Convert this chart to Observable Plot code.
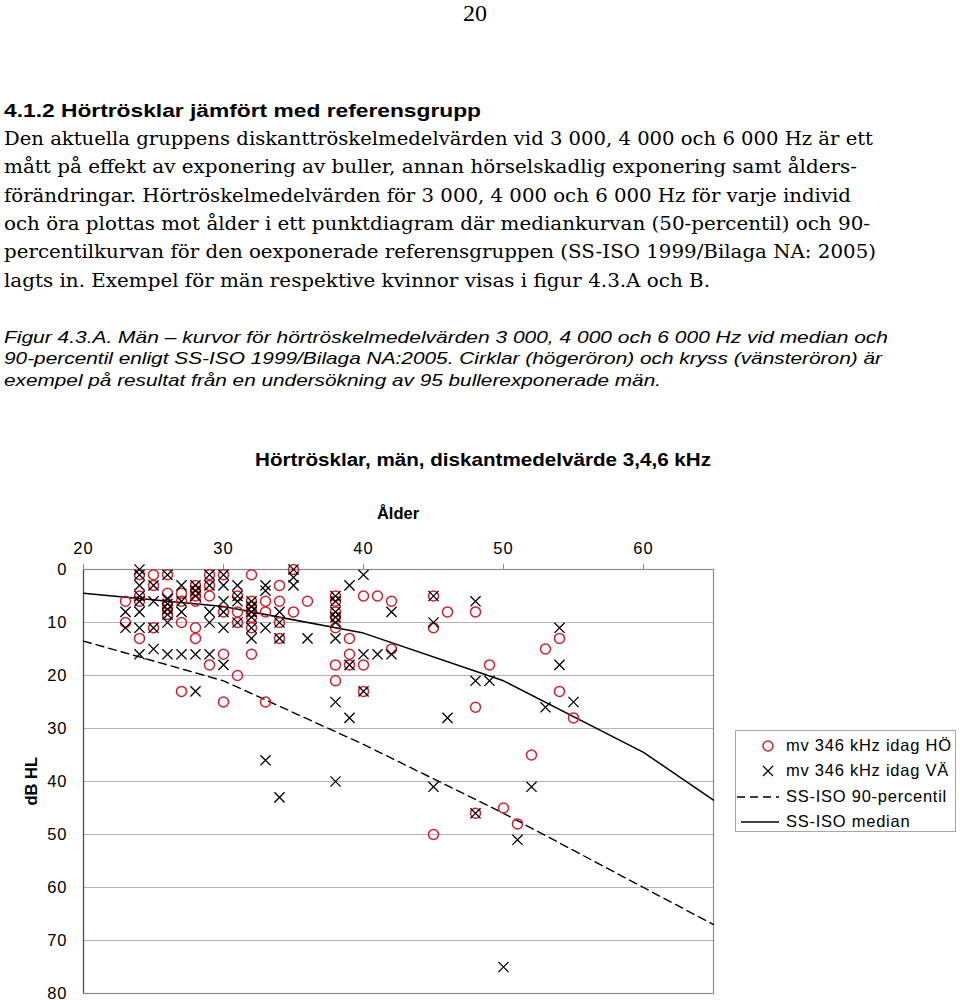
<!DOCTYPE html>
<html>
<head>
<meta charset="utf-8">
<script src="https://cdn.jsdelivr.net/npm/d3@7"></script>
<script src="https://cdn.jsdelivr.net/npm/@observablehq/plot@0.6"></script>
<style>
  html, body { margin: 0; padding: 0; background: #fff; }
  body { width: 960px; height: 1000px; position: relative; overflow: hidden; color: #000; }
  .ln { position: absolute; white-space: nowrap; line-height: 1; transform-origin: 0 0; }
  .serif { font-family: "DejaVu Serif", "Liberation Serif", serif; }
  .sans { font-family: "Liberation Sans", Arial, sans-serif; }
  #chart { position: absolute; left: 0; top: 530px; }
  #chart svg text { font-family: "Liberation Sans", Arial, sans-serif !important; font-size: 16.5px !important; font-weight: normal !important; letter-spacing: 1px; fill: #000; }
  #legend { position: absolute; left: 735px; top: 730px; width: 221px; height: 102px; border: 1px solid #a8a8a8; box-sizing: border-box; background: #fff; }
  #legend .row { position: absolute; left: 0; height: 20px; }
  #legend svg { position: absolute; left: 0; top: 0; }
  #legend span { position: absolute; left: 50px; top: 1px; font-family: "Liberation Sans", Arial, sans-serif; font-size: 16.5px; letter-spacing: 0.75px; white-space: nowrap; line-height: 1; }
</style>
</head>
<body>
<div id="page"></div>
<div id="chart"></div>
<div id="legend"></div>
<script>
// ---------------- data ----------------
const xTicks = [20, 30, 40, 50, 60];
const yTicks = [0, 10, 20, 30, 40, 50, 60, 70, 80];

// SS-ISO reference curves (age, dB HL)
const refAges = [20, 30, 40, 50, 60, 65];
const refMedian = [4.5, 7, 12, 21, 34.5, 43.5];
const ref90 = [13.5, 21, 33, 46, 60, 67];

// Right ear (HÖ, circles): [age, dB HL]
const rightEar = [
  [23,6],[23,10],
  [24,1],[24,5],[24,6],[24,13],
  [25,1],[25,3],[25,11],
  [26,1],[26,4.5],[26,6.5],[26,7.5],[26,8.5],
  [27,4.5],[27,6],[27,10],[27,23],
  [28,3],[28,4],[28,5],[28,6],[28,11],[28,13],
  [29,1],[29,3],[29,5],[29,18],
  [30,1],[30,8],[30,16],[30,25],
  [31,5],[31,8],[31,10],[31,20],
  [32,1],[32,6],[32,7],[32,8],[32,9],[32,11],[32,16],
  [33,6],[33,8],[33,25],
  [34,3],[34,6],[34,10],[34,13],
  [35,0],[35,8],
  [36,6],
  [38,5],[38,6],[38,8],[38,9],[38,11],[38,18],[38,21],
  [39,13],[39,16],[39,18],
  [40,5],[40,18],[40,23],
  [41,5],
  [42,6],[42,15],
  [45,5],[45,11],[45,50],
  [46,8],
  [48,8],[48,26],[48,46],
  [49,18],
  [50,45],[51,48],[52,35],[53,15],[54,13],[54,23],[55,28]
];

// Left ear (VÄ, crosses): [age, dB HL]
const leftEar = [
  [23,8],[23,11],
  [24,0],[24,1],[24,3],[24,5],[24,6],[24,8],[24,11],[24,16],
  [25,3],[25,6],[25,11],[25,15],
  [26,1],[26,5.5],[26,6.5],[26,7.5],[26,8.5],[26,10],[26,16],
  [27,3],[27,6],[27,8],[27,16],
  [28,3],[28,4],[28,5],[28,16],[28,23],
  [29,1],[29,3],[29,8],[29,10],[29,16],
  [30,1],[30,3],[30,6],[30,8],[30,11],[30,18],
  [31,3],[31,5],[31,6],[31,10],
  [32,6],[32,7],[32,8],[32,9],[32,11],[32,13],
  [33,3],[33,4],[33,11],[33,36],
  [34,8],[34,10],[34,13],[34,43],
  [35,0],[35,1.5],[35,3],
  [36,13],
  [38,5],[38,6],[38,8],[38,9],[38,10],[38,13],[38,25],[38,40],
  [39,3],[39,18],[39,28],
  [40,1],[40,16],[40,23],
  [41,16],
  [42,8],[42,16],
  [45,5],[45,10],[45,41],
  [46,28],
  [48,6],[48,21],[48,46],
  [49,21],
  [50,75],[51,51],[52,41],[53,26],[54,11],[54,18],[55,25]
];

const legendLabels = ["mv 346 kHz idag HÖ", "mv 346 kHz idag VÄ", "SS-ISO 90-percentil", "SS-ISO median"];

const pageNumber = "20";
const heading = "4.1.2 Hörtrösklar jämfört med referensgrupp";
const bodyLines = [
  "Den aktuella gruppens diskanttröskelmedelvärden vid 3 000, 4 000 och 6 000 Hz är ett",
  "mått på effekt av exponering av buller, annan hörselskadlig exponering samt ålders-",
  "förändringar. Hörtröskelmedelvärden för 3 000, 4 000 och 6 000 Hz för varje individ",
  "och öra plottas mot ålder i ett punktdiagram där mediankurvan (50-percentil) och 90-",
  "percentilkurvan för den oexponerade referensgruppen (SS-ISO 1999/Bilaga NA: 2005)",
  "lagts in. Exempel för män respektive kvinnor visas i figur 4.3.A och B."
];
const captionLines = [
  "Figur 4.3.A.  Män – kurvor för hörtröskelmedelvärden 3 000, 4 000 och 6 000 Hz vid median och",
  "90-percentil enligt SS-ISO 1999/Bilaga NA:2005. Cirklar (högeröron) och kryss (vänsteröron) är",
  "exempel på resultat från en undersökning av 95 bullerexponerade män."
];
const chartTitle = "Hörtrösklar, män, diskantmedelvärde 3,4,6 kHz";
const xLabel = "Ålder";
const yLabel = "dB HL";

// ---------------- text ----------------
const page = document.getElementById("page");
function addLine(text, cls, fs, left, baseline, targetW, extra) {
  const d = document.createElement("div");
  d.className = "ln " + cls;
  d.textContent = text;
  d.style.fontSize = fs + "px";
  d.style.left = left + "px";
  d.style.top = (baseline - 0.85 * fs) + "px";
  if (extra) Object.assign(d.style, extra);
  page.appendChild(d);
  if (targetW) {
    const w = d.getBoundingClientRect().width;
    d.style.transform = `scaleX(${targetW / w})`;
  }
  return d;
}
const pn = addLine(pageNumber, "serif", 24, 0, 21, null, {fontFamily: "'Liberation Serif', serif"});
pn.style.left = (475 - pn.getBoundingClientRect().width / 2) + "px";
addLine(heading, "sans", 19, 4, 117, 477, {fontWeight: "bold"});
const bodyRight = [873, 857, 851, 870, 876, 710];
bodyLines.forEach((t, i) => addLine(t, "serif", 19, 4, 145 + 28.4 * i, bodyRight[i] - 4));
const capRight = [888, 882, 661];
captionLines.forEach((t, i) => addLine(t, "sans", 17, 4, 343 + 21.5 * i, capRight[i] - 4, {fontStyle: "italic"}));
addLine(chartTitle, "sans", 18, 255, 466, 456, {fontWeight: "bold"});
const xl = addLine(xLabel, "sans", 16.5, 0, 519, null, {fontWeight: "bold"});
xl.style.left = (398 - xl.getBoundingClientRect().width / 2) + "px";
const yl = addLine(yLabel, "sans", 16.5, 0, 0, null, {fontWeight: "bold"});
{
  const r = yl.getBoundingClientRect();
  yl.style.transformOrigin = "50% 50%";
  yl.style.left = (31 - r.width / 2) + "px";
  yl.style.top = (781 - r.height / 2) + "px";
  yl.style.transform = "rotate(-90deg)";
}

// ---------------- chart ----------------
const red = "#d0202e";
const medianData = refAges.map((a, i) => ({age: a, db: refMedian[i]}));
const p90Data = refAges.map((a, i) => ({age: a, db: ref90[i]}));
const rightData = rightEar.map(([a, d]) => ({age: a, db: d}));
const leftData = leftEar.map(([a, d]) => ({age: a, db: d}));

const chart = Plot.plot({
  width: 960,
  height: 470,
  marginTop: 39,
  marginBottom: 7,
  marginLeft: 83,
  marginRight: 247,
  style: {fontFamily: "'Liberation Sans', Arial, sans-serif", fontSize: "16.5px", color: "#000", background: "transparent", overflow: "visible"},
  x: {domain: [20, 65]},
  y: {domain: [0, 80], reverse: true},
  marks: [
    Plot.gridY(yTicks, {stroke: "#b4b4b4", strokeOpacity: 1, strokeWidth: 1}),
    Plot.frame({stroke: "#8c8c8c", strokeWidth: 1.2}),
    Plot.ruleX([20], {stroke: "#505050", strokeWidth: 1.2}),
    Plot.axisX(xTicks, {anchor: "top", tickSize: 6, tickPadding: 10, stroke: "#8c8c8c", fill: "#000", label: null}),
    Plot.axisY(yTicks, {anchor: "left", tickSize: 0, tickPadding: 16, fill: "#000", label: null}),
    Plot.line(p90Data, {x: "age", y: "db", stroke: "#000", strokeWidth: 1.4, strokeDasharray: "8,5"}),
    Plot.line(medianData, {x: "age", y: "db", stroke: "#000", strokeWidth: 1.5}),
    Plot.dot(rightData, {x: "age", y: "db", symbol: "circle", r: 5, stroke: red, strokeWidth: 1.5, fill: "none"}),
    Plot.dot(leftData, {x: "age", y: "db", symbol: "times", r: 4.7, stroke: "#000", strokeWidth: 1.3})
  ]
});
document.getElementById("chart").appendChild(chart);

// ---------------- legend ----------------
const legend = document.getElementById("legend");
const rowCenters = [15, 40, 66, 91]; // relative to legend box top
legendLabels.forEach((lab, i) => {
  const row = document.createElement("div");
  row.className = "row";
  row.style.top = (rowCenters[i] - 10) + "px";
  row.style.width = "220px";
  const ns = "http://www.w3.org/2000/svg";
  const svg = document.createElementNS(ns, "svg");
  svg.setAttribute("width", "48");
  svg.setAttribute("height", "20");
  if (i === 0) {
    const c = document.createElementNS(ns, "circle");
    c.setAttribute("cx", 32); c.setAttribute("cy", 10); c.setAttribute("r", 5);
    c.setAttribute("fill", "none"); c.setAttribute("stroke", red); c.setAttribute("stroke-width", 1.5);
    svg.appendChild(c);
  } else if (i === 1) {
    const p = document.createElementNS(ns, "path");
    p.setAttribute("d", "M27,5L37,15M37,5L27,15");
    p.setAttribute("stroke", "#000"); p.setAttribute("stroke-width", 1.3);
    svg.appendChild(p);
  } else {
    const l = document.createElementNS(ns, "line");
    l.setAttribute("x1", i === 2 ? 1 : 5); l.setAttribute("x2", 43);
    l.setAttribute("y1", 10); l.setAttribute("y2", 10);
    l.setAttribute("stroke", "#000"); l.setAttribute("stroke-width", 1.4);
    if (i === 2) l.setAttribute("stroke-dasharray", "8,5");
    svg.appendChild(l);
  }
  row.appendChild(svg);
  const s = document.createElement("span");
  s.textContent = lab;
  row.appendChild(s);
  legend.appendChild(row);
});
</script>
</body>
</html>
